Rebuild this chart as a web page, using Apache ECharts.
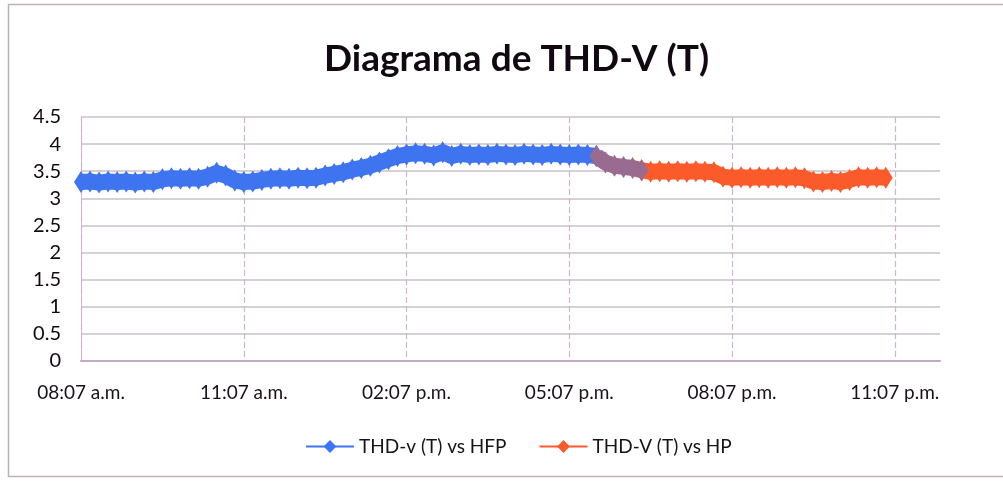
<!DOCTYPE html>
<html lang="es">
<head>
<meta charset="UTF-8">
<title>Diagrama de THD-V (T)</title>
<script src="https://cdn.jsdelivr.net/npm/echarts@6/dist/echarts.min.js"></script>
<style>
  html, body { margin: 0; padding: 0; background: #fff; }
  #chart { width: 1003px; height: 481px; }
</style>
</head>
<body>
<div id="chart"></div>
<script>
// ejes: una muestra cada 10 min desde 08:07 a.m. hasta 11:57 p.m.
var horaInicio = 8 * 60 + 7;
var numMuestras = 96;
var yTicks = [0, 0.5, 1, 1.5, 2, 2.5, 3, 3.5, 4, 4.5];

// THD-v (T) vs HFP (fuera de punta), indices 0..57
var hfp = [3.30, 3.31, 3.29, 3.31, 3.30, 3.31, 3.29, 3.31, 3.30, 3.35,
           3.37, 3.36, 3.37, 3.36, 3.40, 3.47, 3.42, 3.33, 3.30, 3.31,
           3.34, 3.36, 3.37, 3.36, 3.38, 3.37, 3.38, 3.42, 3.45, 3.48,
           3.53, 3.56, 3.60, 3.66, 3.72, 3.78, 3.81, 3.83, 3.82, 3.79,
           3.85, 3.78, 3.82, 3.80, 3.81, 3.80, 3.82, 3.81, 3.80, 3.82,
           3.81, 3.80, 3.82, 3.81, 3.80, 3.81, 3.80, 3.78];
// tramo de cambio (se ve morado), indices 57..62
var cambio = [3.78, 3.66, 3.60, 3.58, 3.56, 3.52];
// THD-V (T) vs HP (hora punta), indices 62..89
var hp = [3.52, 3.49, 3.50, 3.49, 3.50, 3.49, 3.50, 3.49, 3.48, 3.40,
          3.38, 3.39, 3.38, 3.39, 3.38, 3.39, 3.38, 3.39, 3.37, 3.31,
          3.30, 3.32, 3.30, 3.34, 3.39, 3.38, 3.39, 3.38];

var inicioCambio = 57;
var inicioHp = 62;

function fmtHora(min) {
  var h = Math.floor(min / 60) % 24, m = min % 60;
  var suf = h < 12 ? 'a.m.' : 'p.m.';
  var h12 = h % 12; if (h12 === 0) h12 = 12;
  return (h12 < 10 ? '0' : '') + h12 + ':' + (m < 10 ? '0' : '') + m + ' ' + suf;
}
var horas = [];
for (var i = 0; i < numMuestras; i++) horas.push(fmtHora(horaInicio + i * 10));

function ubicar(valores, desde) {
  var out = [];
  for (var i = 0; i < numMuestras; i++) {
    var k = i - desde;
    out.push(k >= 0 && k < valores.length ? valores[k] : null);
  }
  return out;
}

var fuente = 'Lato, "Open Sans", sans-serif';
var chart = echarts.init(document.getElementById('chart'));

function serie(nombre, datos, color) {
  return {
    name: nombre,
    type: 'line',
    data: datos,
    symbol: 'diamond',
    symbolSize: [14, 22],
    showAllSymbol: true,
    connectNulls: false,
    lineStyle: { color: color, width: 16 },
    itemStyle: { color: color },
    emphasis: { disabled: true },
    z: 3
  };
}

chart.setOption({
  animation: false,
  backgroundColor: '#fff',
  graphic: [{
    type: 'rect',
    shape: { x: 8.5, y: 4.5, width: 1000, height: 472 },
    style: { fill: 'none', stroke: '#bcb2bc', lineWidth: 1.5 },
    silent: true
  }],
  title: {
    text: 'Diagrama de THD-V (T)',
    left: 319,
    top: 36,
    textStyle: { fontFamily: fuente, fontSize: 37, fontWeight: 'bold', color: '#120812' }
  },
  legend: {
    bottom: 20,
    left: 300,
    itemWidth: 48,
    itemHeight: 16,
    itemGap: 32,
    data: ['THD-v (T) vs HFP', 'THD-V (T) vs HP'],
    textStyle: { fontFamily: fuente, fontSize: 19, color: '#1a101a' }
  },
  grid: { left: 81, right: 63, top: 117, bottom: 120 },
  xAxis: {
    type: 'category',
    data: horas,
    boundaryGap: false,
    axisLine: { lineStyle: { color: '#c6a8c6', width: 2 } },
    axisTick: { show: false },
    axisLabel: {
      interval: function (idx) { return idx % 18 === 0; },
      fontFamily: fuente, fontSize: 19, color: '#1a101a', margin: 22
    },
    splitLine: {
      show: true,
      interval: function (idx) { return idx % 18 === 0; },
      lineStyle: { color: '#cfb4cf', type: [6, 3], width: 1.2 }
    }
  },
  yAxis: {
    type: 'value',
    min: 0,
    max: 4.5,
    interval: 0.5,
    axisLine: { show: true, lineStyle: { color: '#cfb4cf', type: [6, 3] } },
    axisTick: { show: false },
    axisLabel: {
      fontFamily: fuente, fontSize: 20, color: '#120812', margin: 20,
      formatter: function (v) { return yTicks.indexOf(v) >= 0 ? String(v) : ''; }
    },
    splitLine: { lineStyle: { color: '#c8c2c8', width: 1.5 } }
  },
  series: [
    serie('THD-v (T) vs HFP', ubicar(hfp, 0), '#3f74f1'),
    serie('THD-V (T) vs HP', ubicar(hp, inicioHp), '#fb5b2b'),
    serie('cambio', ubicar(cambio, inicioCambio), '#9a6b90')
  ]
});
</script>
</body>
</html>
